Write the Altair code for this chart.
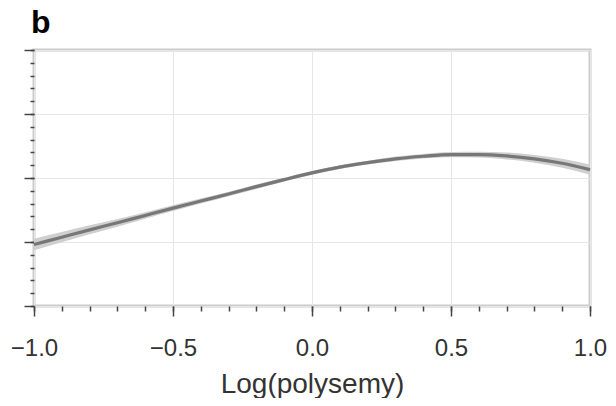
import altair as alt
import pandas as pd

# Data
x_vals = [-1.0, -0.9, -0.8, -0.7, -0.6, -0.5, -0.4, -0.3, -0.2, -0.1, 0.0,
          0.1, 0.2, 0.3, 0.4, 0.5, 0.6, 0.7, 0.8, 0.9, 1.0]
fit = [0.96, 1.075, 1.19, 1.30, 1.415, 1.53, 1.64, 1.75, 1.865, 1.975, 2.08,
       2.17, 2.24, 2.30, 2.34, 2.365, 2.365, 2.345, 2.30, 2.23, 2.13]
lower = [0.87, 0.995, 1.12, 1.24, 1.365, 1.485, 1.60, 1.715, 1.83, 1.945, 2.05,
         2.14, 2.21, 2.265, 2.305, 2.325, 2.32, 2.29, 2.24, 2.16, 2.05]
upper = [1.05, 1.155, 1.26, 1.36, 1.465, 1.575, 1.68, 1.785, 1.90, 2.005, 2.11,
         2.20, 2.27, 2.335, 2.375, 2.405, 2.41, 2.40, 2.36, 2.30, 2.21]

x_major = [-1.0, -0.5, 0.0, 0.5, 1.0]
x_minor = [-1.0, -0.9, -0.8, -0.7, -0.6, -0.5, -0.4, -0.3, -0.2, -0.1, 0.0,
           0.1, 0.2, 0.3, 0.4, 0.5, 0.6, 0.7, 0.8, 0.9, 1.0]
y_major = [0, 1, 2, 3, 4]
y_minor = [0, 0.2, 0.4, 0.6, 0.8, 1.0, 1.2, 1.4, 1.6, 1.8, 2.0, 2.2, 2.4,
           2.6, 2.8, 3.0, 3.2, 3.4, 3.6, 3.8, 4.0]

df = pd.DataFrame({"x": x_vals, "fit": fit, "lo": lower, "hi": upper})

FONT = "Liberation Sans"
TICK_COLOR = "#444444"

xscale = alt.Scale(domain=[-1, 1], nice=False, zero=False)
yscale = alt.Scale(domain=[0, 4], nice=False, zero=False)

band = alt.Chart(df).mark_area(color="#cfcfcf", interpolate="monotone").encode(
    x=alt.X("x:Q", scale=xscale,
            axis=alt.Axis(values=x_major, format=".1f", title="Log(polysemy)",
                          orient="bottom", domain=False, grid=True,
                          gridColor="#e6e6e6", gridWidth=1,
                          tickSize=10, tickWidth=1.5, tickColor=TICK_COLOR,
                          labelFont=FONT, labelFontSize=24, labelColor="#333333",
                          labelPadding=20, labelFlush=False,
                          titleFont=FONT, titleFontSize=28, titleFontWeight="normal",
                          titleColor="#333333", titlePadding=10)),
    y=alt.Y("lo:Q", scale=yscale,
            axis=alt.Axis(values=y_major, labels=False, title=None, orient="left",
                          domain=False, grid=True, gridColor="#e6e6e6", gridWidth=1,
                          tickSize=10, tickWidth=1.5, tickColor=TICK_COLOR)),
    y2="hi:Q",
)

line = alt.Chart(df).mark_line(color="#777777", strokeWidth=3.2,
                               interpolate="monotone").encode(
    x=alt.X("x:Q", scale=xscale,
            axis=alt.Axis(values=x_minor, labels=False, title=None, orient="bottom",
                          domain=False, grid=False, tickSize=5, tickWidth=1.5,
                          tickColor=TICK_COLOR)),
    y=alt.Y("fit:Q", scale=yscale,
            axis=alt.Axis(values=y_minor, labels=False, title=None, orient="left",
                          domain=False, grid=False, tickSize=4, tickWidth=1.5,
                          tickColor=TICK_COLOR)),
)

chart = alt.layer(band, line).resolve_axis(
    x="independent", y="independent"
).properties(
    width=556,
    height=256,
    title=alt.TitleParams("b", anchor="start", frame="group", fontSize=32,
                          fontWeight="bold", font=FONT, color="black",
                          offset=9, dx=-3),
    autosize=alt.AutoSizeParams(type="none"),
    padding={"left": 26, "top": 42, "right": 18, "bottom": 92},
).configure_view(
    stroke="#cccccc", strokeWidth=3
)

chart.save("out.html", embed_options={"renderer": "svg", "actions": False})
